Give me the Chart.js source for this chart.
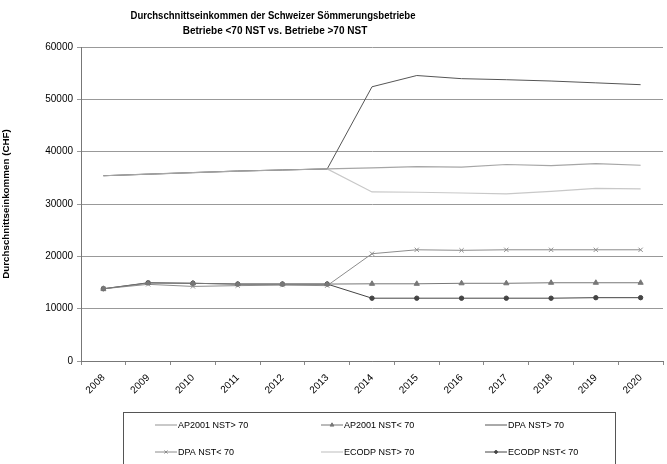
<!DOCTYPE html>
<html>
<head>
<meta charset="utf-8">
<script src="https://cdn.jsdelivr.net/npm/chart.js@4/dist/chart.umd.min.js"></script>
<style>
html,body{margin:0;padding:0;background:#fff;}
#wrap{width:667px;height:464px;position:relative;}
</style>
</head>
<body>
<div id="wrap"><canvas id="c" width="667" height="464"></canvas></div>
<script>
const years = ['2008','2009','2010','2011','2012','2013','2014','2015','2016','2017','2018','2019','2020'];
const ap2001Gt70 = [35400,35700,36000,36300,36500,36700,36900,37150,37050,37550,37350,37700,37400];
const ap2001Lt70 = [13800,14900,14850,14700,14700,14700,14750,14750,14850,14850,14950,14950,14950];
const dpaGt70    = [35400,35700,36000,36300,36500,36700,52400,54550,53950,53750,53500,53150,52800];
const dpaLt70    = [13800,14650,14250,14400,14500,14400,20500,21250,21150,21250,21250,21250,21250];
const ecodpGt70  = [35400,35700,36000,36300,36500,36700,32300,32250,32100,31950,32400,33000,32900];
const ecodpLt70  = [13800,14950,14850,14700,14700,14700,12000,12000,12000,12000,12000,12100,12100];
const seriesNames = ['AP2001 NST> 70','AP2001 NST< 70','DPA NST> 70','DPA NST< 70','ECODP NST> 70','ECODP NST< 70'];
const yTicks = [0,10000,20000,30000,40000,50000,60000];
const titleLines = ['Durchschnittseinkommen der Schweizer Sömmerungsbetriebe','Betriebe <70 NST vs. Betriebe >70 NST'];
const yTitle = 'Durchschnittseinkommen (CHF)';

const FONT = "'Liberation Sans', Arial, sans-serif";

function ds(label, data, color, style, radius, width){
  return {label, data, borderColor:color, backgroundColor:color, borderWidth:width||1,
    pointStyle: style||'circle', pointRadius: style?radius:0, pointHoverRadius: style?radius:0,
    pointBorderColor:color, pointBackgroundColor:color, pointBorderWidth:1, tension:0, fill:false};
}

const datasets = [
  ds(seriesNames[0], ap2001Gt70, '#a6a6a6', null, 0, 1.2),
  ds(seriesNames[1], ap2001Lt70, '#777777', 'triangle', 3, 1),
  ds(seriesNames[2], dpaGt70, '#555555', null, 0, 1),
  ds(seriesNames[3], dpaLt70, '#8c8c8c', 'crossRot', 3, 1),
  ds(seriesNames[4], ecodpGt70, '#c8c8c8', null, 0, 1.2),
  ds(seriesNames[5], ecodpLt70, '#444444', 'circle', 2.2, 1)
];

const deco = {
  id:'deco',
  afterDraw(chart){
    const ctx = chart.ctx;
    ctx.save();
    ctx.fillStyle = '#000';
    ctx.textAlign = 'center';
    ctx.textBaseline = 'middle';
    ctx.font = 'bold 10px ' + FONT;
    ctx.save();
    ctx.translate(273, 16);
    ctx.scale(0.955, 1);
    ctx.fillText(titleLines[0], 0, 0);
    ctx.restore();
    ctx.fillText(titleLines[1], 275, 31);
    ctx.strokeStyle = '#555';
    ctx.lineWidth = 1;
    ctx.strokeRect(123.5, 412.5, 492, 60);
    const colX = [155, 321, 485];
    const rowY = [425, 452];
    ctx.font = '9px ' + FONT;
    ctx.textAlign = 'left';
    chart.data.datasets.forEach((d, i) => {
      const x = colX[i % 3], y = rowY[Math.floor(i / 3)];
      ctx.strokeStyle = d.borderColor;
      ctx.lineWidth = d.borderWidth;
      ctx.beginPath(); ctx.moveTo(x, y); ctx.lineTo(x + 22, y); ctx.stroke();
      if (d.pointRadius > 0) {
        ctx.fillStyle = d.borderColor;
        Chart.helpers.drawPoint(ctx, {pointStyle:d.pointStyle, radius:d.pointRadius - 0.8, rotation:0, borderWidth:1}, x + 11, y);
      }
      ctx.fillStyle = '#000';
      ctx.fillText(d.label, x + 23, y + 0.5);
    });
    ctx.restore();
  }
};

new Chart(document.getElementById('c'), {
  type:'line',
  data:{labels:years, datasets},
  plugins:[deco],
  options:{
    responsive:false, animation:false, devicePixelRatio:1,
    layout:{padding:{top:47, right:0, bottom:0, left:0}},
    plugins:{legend:{display:false}, title:{display:false}, tooltip:{enabled:false}},
    scales:{
      x:{
        offset:true,
        grid:{drawOnChartArea:false, drawTicks:true, tickLength:4, color:'#888', offset:true},
        border:{color:'#777', width:1},
        ticks:{maxRotation:45, minRotation:45, autoSkip:false, color:'#000', font:{family:FONT, size:10}, padding:7},
        afterFit(s){ s.height = 103; }
      },
      y:{
        min:0, max:60000,
        afterBuildTicks(s){ s.ticks = yTicks.map(v => ({value:v})); },
        grid:{color:'#999', tickLength:4, drawTicks:true},
        border:{color:'#777', width:1},
        ticks:{color:'#000', font:{family:FONT, size:10}, padding:4, callback:(v) => String(v)},
        title:{display:true, text:yTitle, color:'#000', font:{family:FONT, size:9.8, weight:'bold'}, padding:{top:0,bottom:18}},
        afterFit(s){ s.width = 81; }
      }
    }
  }
});
</script>
</body>
</html>
